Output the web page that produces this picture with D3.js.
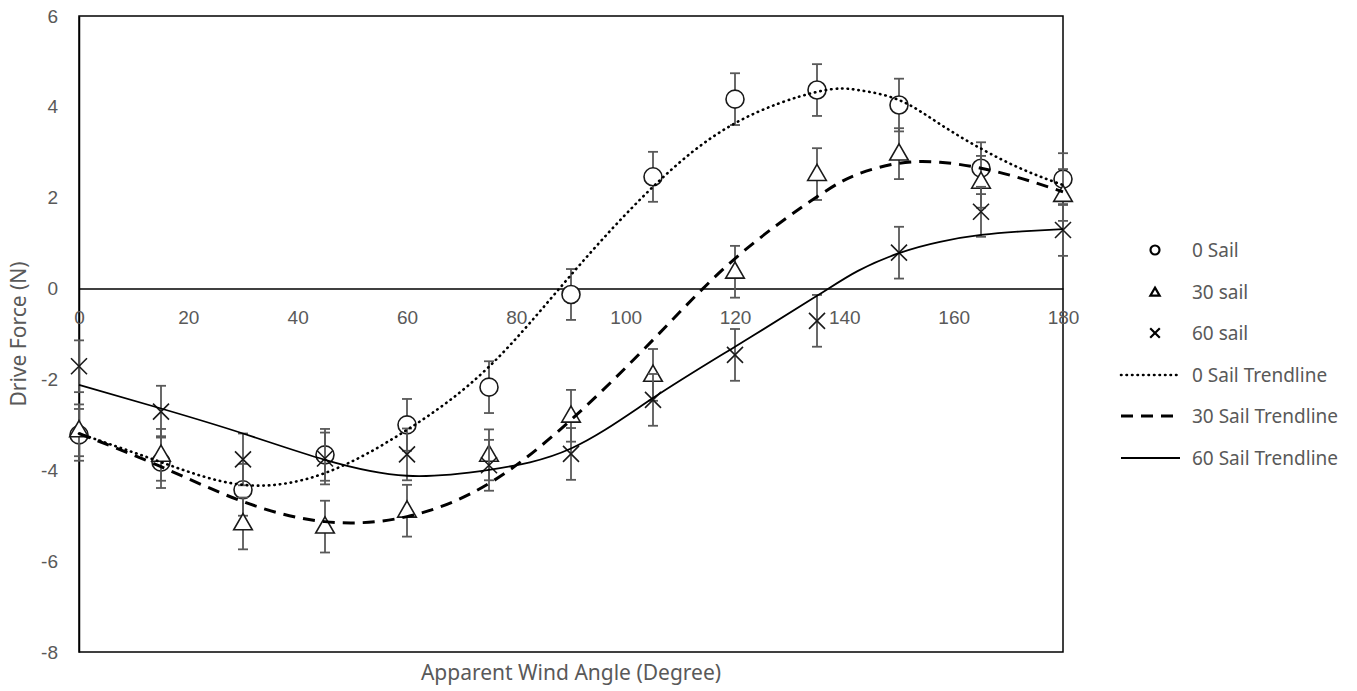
<!DOCTYPE html>
<html>
<head>
<meta charset="utf-8">
<script src="https://cdn.jsdelivr.net/npm/d3@7"></script>
<style>
  body { margin: 0; background: #fff; }
  svg { font-family: "Noto Sans", "Open Sans", sans-serif; }
</style>
</head>
<body>
<div id="chart"></div>
<script>
// data
const angles = [0, 15, 30, 45, 60, 75, 90, 105, 120, 135, 150, 165, 180];
const sail0 = [-3.22, -3.82, -4.43, -3.66, -3.0, -2.17, -0.13, 2.46, 4.17, 4.37, 4.04, 2.65, 2.41];
const sail30 = [-3.12, -3.66, -5.17, -5.24, -4.89, -3.66, -2.8, -1.9, 0.37, 2.52, 2.97, 2.35, 2.06];
const sail60 = [-1.71, -2.71, -3.76, -3.74, -3.65, -3.89, -3.64, -2.45, -1.46, -0.71, 0.79, 1.69, 1.29];
const err0 = [0.57, 0.57, 0.57, 0.57, 0.57, 0.57, 0.56, 0.55, 0.57, 0.57, 0.58, 0.57, 0.57];
const err30 = [0.57, 0.57, 0.57, 0.57, 0.57, 0.56, 0.57, 0.57, 0.57, 0.57, 0.56, 0.57, 0.57];
const err60 = [0.57, 0.57, 0.57, 0.57, 0.57, 0.56, 0.57, 0.57, 0.57, 0.57, 0.57, 0.55, 0.57];
// trendlines
const trendAngles = [0, 15, 30, 45, 60, 75, 90, 105, 120, 135, 142.5, 150, 157.5, 165, 172.5, 180];
const trend0 = [-3.19, -3.82, -4.32, -4.06, -3.11, -1.72, 0.30, 2.24, 3.64, 4.33, 4.37, 4.15, 3.62, 3.08, 2.63, 2.28];
const trend30 = [-3.19, -3.92, -4.69, -5.13, -5.02, -4.29, -2.89, -1.13, 0.66, 2.02, 2.52, 2.76, 2.78, 2.65, 2.42, 2.13];
const trend60 = [-2.12, -2.64, -3.19, -3.77, -4.12, -3.99, -3.52, -2.41, -1.28, -0.16, 0.39, 0.78, 1.03, 1.18, 1.26, 1.31];
const xTicks = [0, 20, 40, 60, 80, 100, 120, 140, 160, 180];
const yTicks = [-8, -6, -4, -2, 0, 2, 4, 6];

const W = 1357, H = 691;
const margin = { top: 16, right: 294, bottom: 39, left: 79 };
const width = W - margin.left - margin.right;
const height = H - margin.top - margin.bottom;
const grey = '#595959';
const tickSize = '19px', legendSize = '19px', titleSize = '21px';

const svg = d3.select('#chart').append('svg')
    .attr('width', W)
    .attr('height', H);

const g = svg.append('g').attr('transform', `translate(${margin.left},${margin.top})`);

const x = d3.scaleLinear().domain([0, 180]).range([0, width]);
const y = d3.scaleLinear().domain([-8, 6]).range([height, 0]);

// plot frame
g.append('rect')
    .attr('width', width)
    .attr('height', height)
    .attr('fill', 'none')
    .attr('stroke', '#000')
    .attr('stroke-width', 1.5);

// y axis
const yAxis = g.append('g')
    .call(d3.axisLeft(y).tickValues(yTicks).tickSize(0).tickPadding(21).tickFormat(d => String(d)));
yAxis.select('.domain').attr('stroke', '#000').attr('stroke-width', 1.5);
yAxis.selectAll('text').attr('fill', grey).style('font-size', tickSize);

// x axis along zero
const xAxis = g.append('g')
    .attr('transform', `translate(0,${y(0)})`)
    .call(d3.axisBottom(x).tickValues(xTicks).tickSize(0).tickPadding(22).tickFormat(d => String(d)));
xAxis.select('.domain').attr('stroke', '#000').attr('stroke-width', 1.5);
xAxis.selectAll('text').attr('fill', grey).style('font-size', tickSize);

// axis titles
svg.append('text')
    .attr('x', margin.left + width / 2)
    .attr('y', 680)
    .attr('text-anchor', 'middle')
    .attr('fill', grey)
    .style('font-size', titleSize)
    .text('Apparent Wind Angle (Degree)');

svg.append('text')
    .attr('transform', `translate(26,${margin.top + height / 2}) rotate(-90)`)
    .attr('text-anchor', 'middle')
    .attr('fill', grey)
    .style('font-size', titleSize)
    .text('Drive Force (N)');

const series = [
    { name: '0 Sail', values: sail0, err: err0, shape: 'circle' },
    { name: '30 sail', values: sail30, err: err30, shape: 'triangle' },
    { name: '60 sail', values: sail60, err: err60, shape: 'cross' }
];

const trends = [
    { name: '0 Sail Trendline', values: trend0, dash: '0.5 5', w: 2.6, cap: 'round' },
    { name: '30 Sail Trendline', values: trend30, dash: '12 8', w: 3, cap: 'butt' },
    { name: '60 Sail Trendline', values: trend60, dash: null, w: 1.8, cap: 'butt' }
];

function marker(sel, shape, s) {
    if (shape === 'circle') {
        sel.append('circle').attr('r', 9 * s);
    } else if (shape === 'triangle') {
        const p = d3.symbol().type(d3.symbolTriangle).size(150 * s * s);
        sel.append('path').attr('d', p).attr('transform', 'translate(0,1)');
    } else {
        const r = 8 * s;
        sel.append('path').attr('d', `M${-r},${-r}L${r},${r}M${-r},${r}L${r},${-r}`);
    }
}

series.forEach(function(sr) {
    const pts = angles.map((a, i) => ({ a: a, v: sr.values[i], e: sr.err[i] }));
    const eb = g.append('g')
        .attr('stroke', grey)
        .attr('stroke-width', 1.8);
    pts.forEach(function(d) {
        const cx = x(d.a), t = y(d.v + d.e), b = y(d.v - d.e);
        eb.append('line').attr('x1', cx).attr('x2', cx).attr('y1', t).attr('y2', b);
        eb.append('line').attr('x1', cx - 5).attr('x2', cx + 5).attr('y1', t).attr('y2', t);
        eb.append('line').attr('x1', cx - 5).attr('x2', cx + 5).attr('y1', b).attr('y2', b);
    });
    g.append('g').selectAll('g')
        .data(pts)
        .enter().append('g')
        .attr('transform', d => `translate(${x(d.a)},${y(d.v)})`)
        .attr('fill', '#fff')
        .attr('stroke', '#1a1a1a')
        .attr('stroke-width', 1.6)
        .each(function() { marker(d3.select(this), sr.shape, 1); });
});

const line = d3.line()
    .x((d, i) => x(trendAngles[i]))
    .y(d => y(d))
    .curve(d3.curveNatural);

trends.forEach(function(t) {
    g.append('path')
        .attr('d', line(t.values))
        .attr('fill', 'none')
        .attr('stroke', '#000')
        .attr('stroke-width', t.w)
        .attr('stroke-linecap', t.cap)
        .attr('stroke-dasharray', t.dash);
});

// legend
const legend = svg.append('g');
const rowY = [250, 292, 333, 375, 416, 458];
series.forEach(function(sr, i) {
    const lg = legend.append('g')
        .attr('transform', `translate(1155,${rowY[i]})`)
        .attr('fill', 'none')
        .attr('stroke', '#000')
        .attr('stroke-width', 2.2);
    marker(lg, sr.shape, sr.shape === 'cross' ? 0.6 : 0.5);
    legend.append('text')
        .attr('x', 1192).attr('y', rowY[i])
        .attr('dy', '0.35em')
        .attr('fill', grey)
        .style('font-size', legendSize)
        .text(sr.name);
});
trends.forEach(function(t, i) {
    const ry = rowY[i + 3];
    legend.append('line')
        .attr('x1', 1121).attr('x2', 1180)
        .attr('y1', ry).attr('y2', ry)
        .attr('stroke', '#000')
        .attr('stroke-width', t.w)
        .attr('stroke-linecap', t.cap)
        .attr('stroke-dasharray', t.dash);
    legend.append('text')
        .attr('x', 1192).attr('y', ry)
        .attr('dy', '0.35em')
        .attr('fill', grey)
        .style('font-size', legendSize)
        .text(t.name);
});
</script>
</body>
</html>
